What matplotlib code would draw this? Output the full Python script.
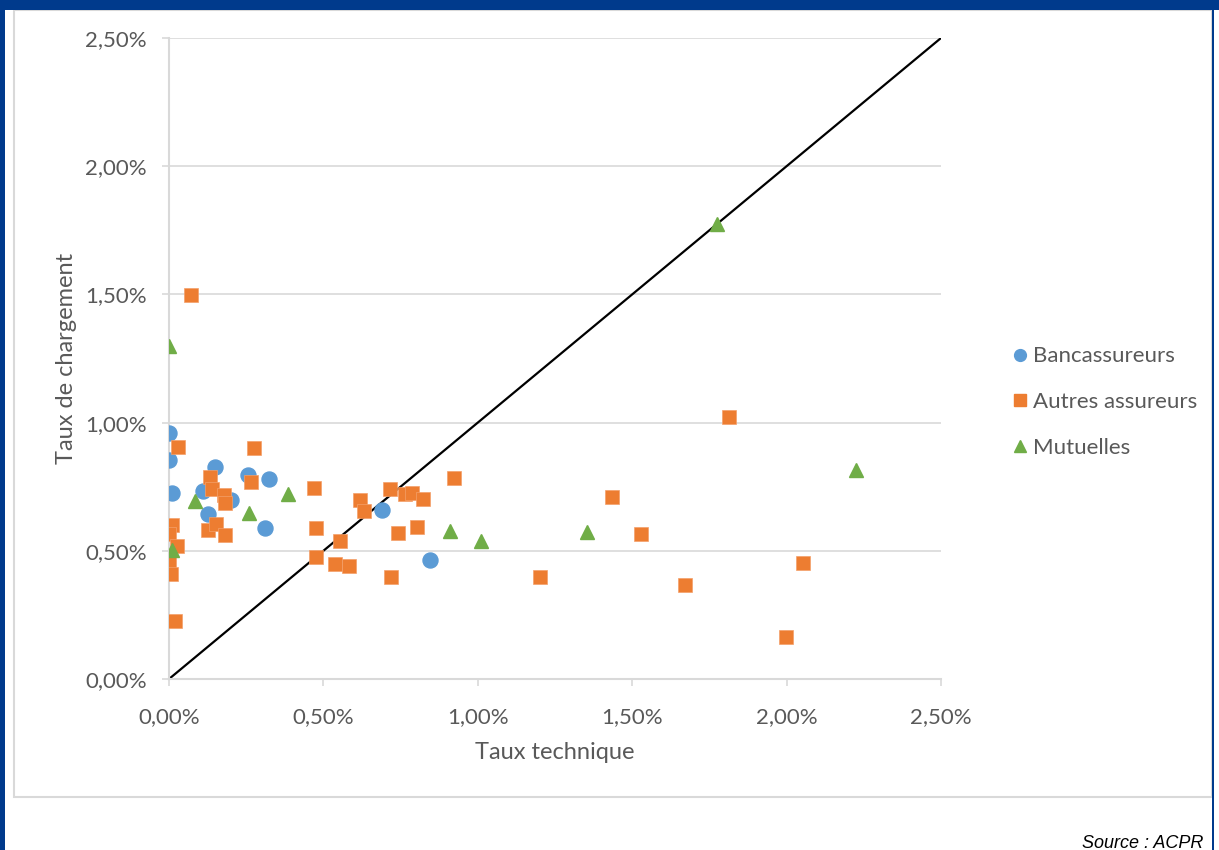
import matplotlib
matplotlib.use("Agg")
import matplotlib.pyplot as plt
from matplotlib.lines import Line2D
from matplotlib.patches import Rectangle
from matplotlib.ticker import FuncFormatter

plt.rcParams['font.family'] = ['Lato', 'DejaVu Sans']

# values in % (taux technique, taux de chargement)
banc_x = [0.00, 0.00, 0.01, 0.11, 0.15, 0.125, 0.20, 0.255, 0.325, 0.31, 0.69, 0.845]
banc_y = [0.96, 0.855, 0.725, 0.733, 0.826, 0.645, 0.70, 0.794, 0.78, 0.588, 0.659, 0.464]

autres_x = [0.07, 0.03, 0.275, 0.133, 0.14, 0.178, 0.181, 0.267, 0.47, 0.011,
            0.00, 0.025, 0.00, 0.006, 0.02, 0.127, 0.152, 0.181, 0.476, 0.476,
            0.554, 0.538, 0.584, 0.618, 0.631, 0.716, 0.764, 0.786, 0.824, 0.924,
            0.743, 0.802, 0.719, 1.813, 1.436, 1.528, 1.202, 1.672, 2.054, 1.997]
autres_y = [1.498, 0.905, 0.901, 0.789, 0.74, 0.718, 0.685, 0.77, 0.744, 0.60,
            0.565, 0.52, 0.454, 0.408, 0.226, 0.58, 0.606, 0.56, 0.588, 0.477,
            0.54, 0.447, 0.44, 0.698, 0.655, 0.74, 0.722, 0.724, 0.701, 0.783,
            0.568, 0.592, 0.397, 1.022, 0.709, 0.566, 0.397, 0.365, 0.452, 0.163]

mut_x = [0.00, 0.085, 0.26, 0.385, 0.01, 0.91, 1.01, 1.353, 1.775, 2.225]
mut_y = [1.30, 0.694, 0.647, 0.72, 0.503, 0.577, 0.538, 0.573, 1.775, 0.815]

diag = [0.0, 2.5]

blue = '#5B9BD5'
orange = '#ED7D31'
green = '#70AD47'
grey = '#D9D9D9'
txt = '#595959'

fig = plt.figure(figsize=(12.19, 8.5), dpi=100)
W, H = 1219, 850

# frame and blue border
fig.patches.append(Rectangle((14 / W, 1 - 797 / H), (1212 - 14) / W, (797 - 10) / H,
                             transform=fig.transFigure, fill=False, ec=grey, lw=1.5))
fig.patches.append(Rectangle((0, 1 - 10 / H), 1, 10 / H, transform=fig.transFigure,
                             color='#003A8C', lw=0))
fig.patches.append(Rectangle((0, 0), 5 / W, 1, transform=fig.transFigure,
                             color='#003A8C', lw=0))
fig.patches.append(Rectangle((1211.5 / W, 0), 2 / W, 1, transform=fig.transFigure,
                             color='#003A8C', lw=0))

ax = fig.add_axes([169 / W, 1 - 679 / H, (941 - 169) / W, (679 - 38) / H])

ax.plot(diag, diag, color='black', lw=1.6, zorder=2)
ax.plot(banc_x, banc_y, 'o', ms=10.8, color=blue, mec=blue, zorder=3)
ax.plot(autres_x, autres_y, 's', ms=10.6, color=orange, mec='#F4A06A', mew=0.5, zorder=3)
ax.plot(mut_x, mut_y, '^', ms=9.6, color=green, mec=green, zorder=3)

ax.set_xlim(0, 2.5)
ax.set_ylim(0, 2.5)
ticks = [0, 0.5, 1.0, 1.5, 2.0, 2.5]
ax.set_xticks(ticks)
ax.set_yticks(ticks)
fmt = FuncFormatter(lambda v, p: '{:.2f}%'.format(v).replace('.', ','))
ax.xaxis.set_major_formatter(fmt)
ax.yaxis.set_major_formatter(fmt)

ax.grid(axis='y', color=grey, lw=1.2)
ax.set_axisbelow(True)
for s in ['top', 'right']:
    ax.spines[s].set_visible(False)
for s in ['left', 'bottom']:
    ax.spines[s].set_color(grey)
    ax.spines[s].set_linewidth(1.5)
ax.tick_params(axis='both', direction='out', length=5, width=1.2, color=grey,
               labelcolor=txt, labelsize=16)
ax.tick_params(axis='y', pad=11)
ax.tick_params(axis='x', pad=15)

ax.set_xlabel('Taux technique', fontsize=17, color=txt, labelpad=11)
ax.set_ylabel('Taux de chargement', fontsize=17, color=txt, labelpad=6)

handles = [
    Line2D([], [], marker='o', ls='', ms=8.5, color=blue),
    Line2D([], [], marker='s', ls='', ms=8.5, color=orange),
    Line2D([], [], marker='^', ls='', ms=8, color=green),
]
leg = fig.legend(handles, ['Bancassureurs', 'Autres assureurs', 'Mutuelles'],
                 loc='center left', bbox_to_anchor=(1013 / W, 1 - 402 / H),
                 frameon=False, fontsize=16, handlelength=0.6, handletextpad=0.3,
                 labelspacing=1.15, borderaxespad=0, borderpad=0)
for t in leg.get_texts():
    t.set_color(txt)

fig.text(1203 / W, 1 - 843 / H, 'Source : ACPR', ha='right', va='center',
         fontsize=13, style='italic', family=['Liberation Sans', 'DejaVu Sans'],
         color='black')

fig.savefig('out.png', dpi=100, facecolor='white')
